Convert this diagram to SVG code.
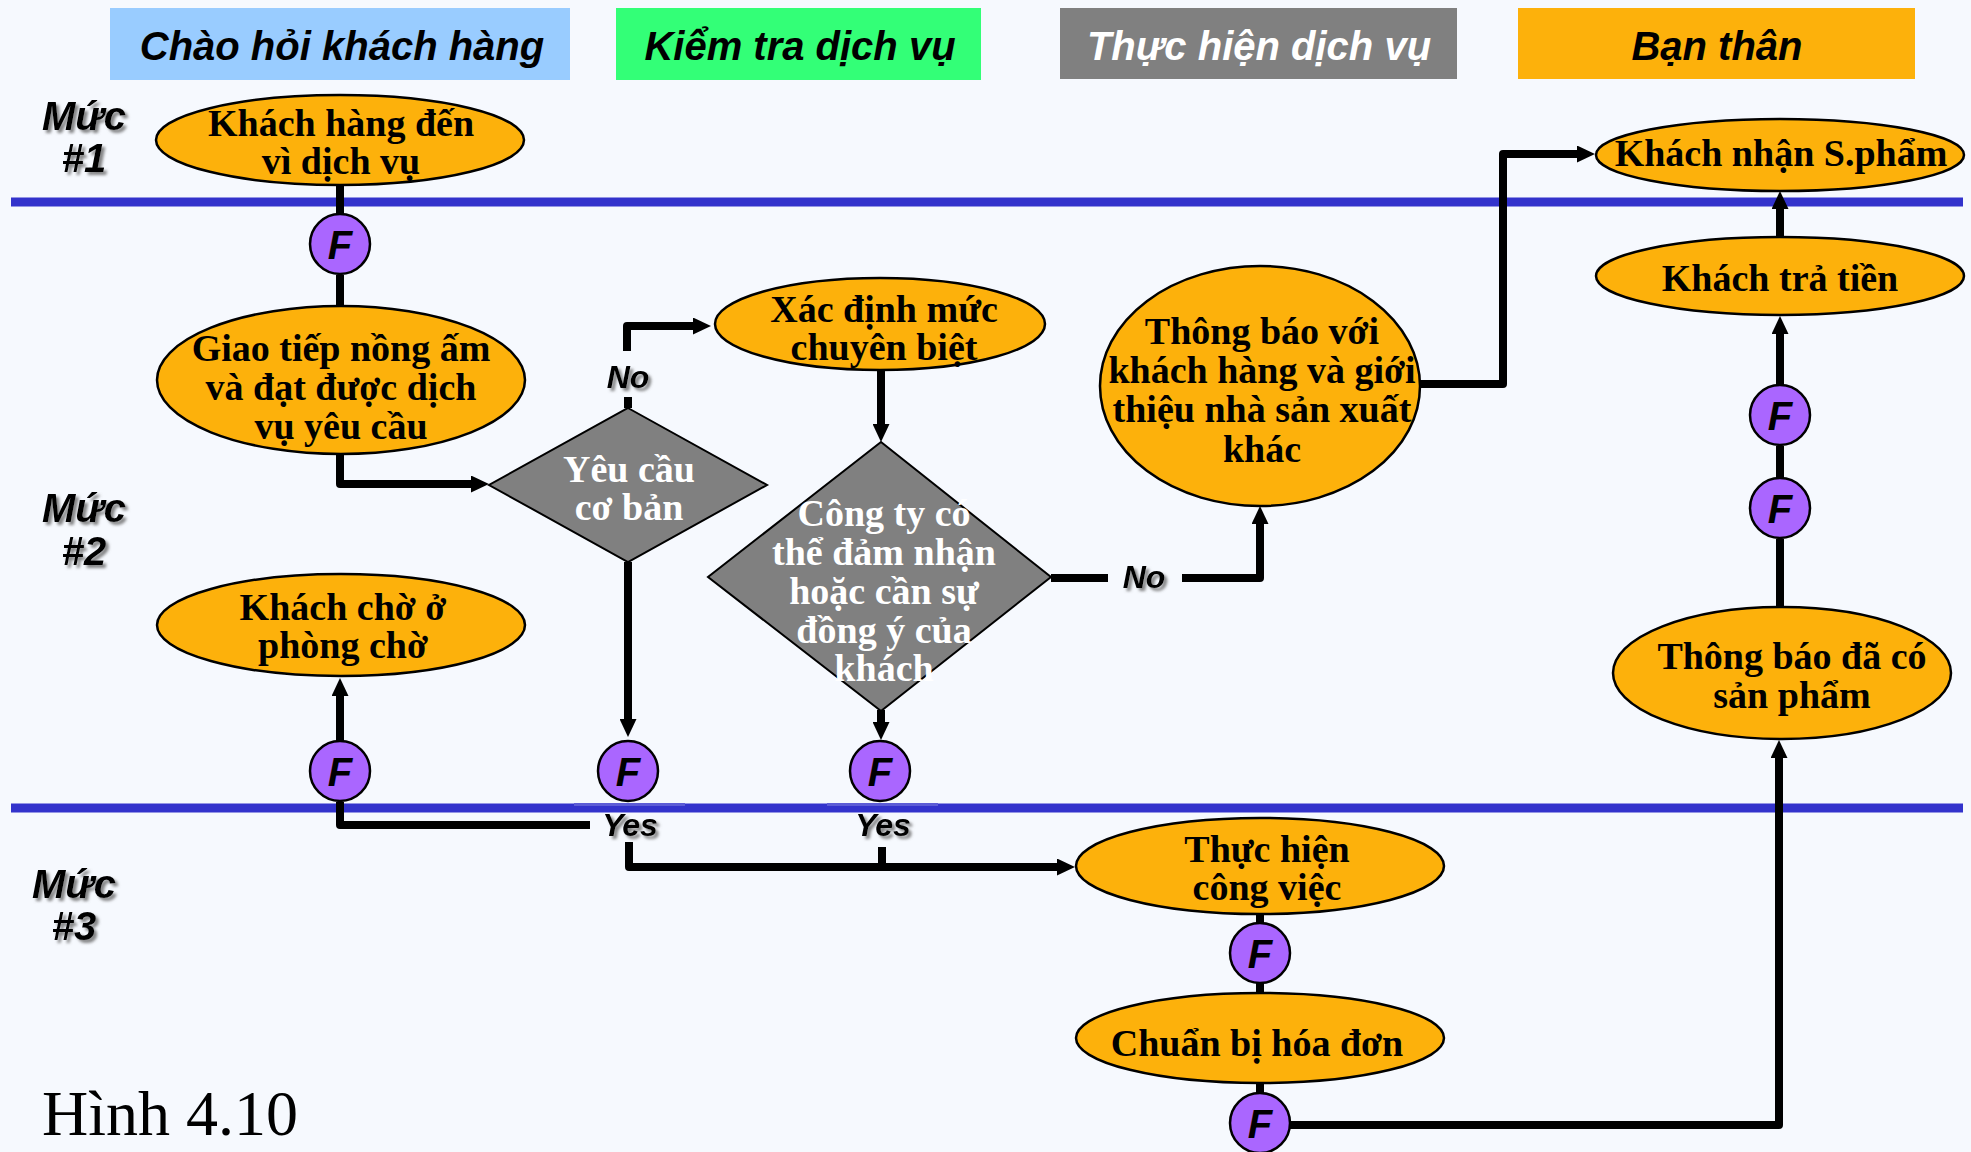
<svg xmlns="http://www.w3.org/2000/svg" width="1971" height="1152" viewBox="0 0 1971 1152">
  <defs>
    <style>
      .lane-head { font-family: "Liberation Sans", Arial, sans-serif; font-weight: bold; font-style: italic; font-size: 40px; text-anchor: middle; }
      .level { font-family: "Liberation Sans", Arial, sans-serif; font-weight: bold; font-style: italic; font-size: 40px; text-anchor: middle; fill: #000; }
      .tag { font-family: "Liberation Sans", Arial, sans-serif; font-weight: bold; font-style: italic; font-size: 32px; text-anchor: middle; fill: #000; }
      .step { fill: #FDB10B; stroke: #000; stroke-width: 2.5; }
      .step-text { font-family: "Liberation Serif", "Times New Roman", serif; font-weight: bold; font-size: 38px; text-anchor: middle; fill: #000; }
      .decision { fill: #808080; stroke: #000; stroke-width: 2; }
      .decision-text { font-family: "Liberation Serif", "Times New Roman", serif; font-weight: bold; font-size: 38px; text-anchor: middle; fill: #fff; }
      .fail { fill: #AA66FF; stroke: #000; stroke-width: 2.5; }
      .fail-text { font-family: "Liberation Sans", Arial, sans-serif; font-weight: bold; font-style: italic; font-size: 40px; text-anchor: middle; fill: #000; }
      .lane-line { stroke: #3333CC; stroke-width: 9; }
      .flow { fill: none; stroke: #000; stroke-width: 8; stroke-linejoin: round; stroke-linecap: butt; }
      .caption { font-family: "Liberation Serif", "Times New Roman", serif; font-size: 64px; fill: #000; }
    </style>
    <marker id="ah" markerUnits="userSpaceOnUse" viewBox="0 0 18 17" markerWidth="18" markerHeight="17" refX="6" refY="8.5" orient="auto">
      <path d="M0,0 L18,8.5 L0,17 z" fill="#000"/>
    </marker>
    <filter id="shadow" x="-20%" y="-20%" width="150%" height="160%">
      <feDropShadow dx="3" dy="3" stdDeviation="1.5" flood-color="#666" flood-opacity="0.8"/>
    </filter>
  </defs>

  <!-- page background -->
  <rect x="0" y="0" width="1971" height="1152" fill="#F6F9FE"/>

  <!-- swimlane headers -->
  <g id="lane-greeting">
    <rect x="110" y="8" width="460" height="72" fill="#99CCFF"/>
    <text class="lane-head" x="342" y="60" fill="#000">Chào hỏi khách hàng</text>
  </g>
  <g id="lane-check">
    <rect x="616" y="8" width="365" height="72" fill="#33FF77"/>
    <text class="lane-head" x="800" y="60" fill="#000">Kiểm tra dịch vụ</text>
  </g>
  <g id="lane-perform">
    <rect x="1060" y="8" width="397" height="71" fill="#808080"/>
    <text class="lane-head" x="1259" y="60" fill="#fff">Thực hiện dịch vụ</text>
  </g>
  <g id="lane-friend">
    <rect x="1518" y="8" width="397" height="71" fill="#FDB10B"/>
    <text class="lane-head" x="1717" y="60" fill="#000">Bạn thân</text>
  </g>

  <!-- level labels -->
  <g id="level-1" filter="url(#shadow)">
    <text class="level" x="84" y="130">Mức</text>
    <text class="level" x="84" y="172">#1</text>
  </g>
  <g id="level-2" filter="url(#shadow)">
    <text class="level" x="84" y="522">Mức</text>
    <text class="level" x="84" y="565">#2</text>
  </g>
  <g id="level-3" filter="url(#shadow)">
    <text class="level" x="74" y="898">Mức</text>
    <text class="level" x="74" y="940">#3</text>
  </g>

  <!-- level separators -->
  <g id="level-lines">
    <line class="lane-line" x1="11" y1="202" x2="1963" y2="202"/>
    <line class="lane-line" x1="11" y1="808" x2="1963" y2="808"/>
    <rect x="574" y="803" width="111" height="3" fill="#5C5CD6"/>
    <rect x="827" y="803" width="111" height="3" fill="#5C5CD6"/>
  </g>

  <!-- connectors -->
  <g id="connectors">
    <path class="flow" d="M340,184 V214"/>
    <path class="flow" d="M340,275 V306"/>
    <path class="flow" d="M340,454 V484 H477" marker-end="url(#ah)"/>
    <path class="flow" d="M628,408 V397"/>
    <path class="flow" d="M627,351 V326 H699" marker-end="url(#ah)"/>
    <path class="flow" d="M881,370 V430" marker-end="url(#ah)"/>
    <path class="flow" d="M628,562 V725" marker-end="url(#ah)"/>
    <path class="flow" d="M881,710 V728" marker-end="url(#ah)"/>
    <path class="flow" d="M340,740 V690" marker-end="url(#ah)"/>
    <path class="flow" d="M340,802 V825 H590"/>
    <path class="flow" d="M629,842 V867 H1063" marker-end="url(#ah)"/>
    <path class="flow" d="M882,847 V867"/>
    <path class="flow" d="M1051,578 H1108"/>
    <path class="flow" d="M1182,578 H1260 V518" marker-end="url(#ah)"/>
    <path class="flow" d="M1419,384 H1503 V154 H1583" marker-end="url(#ah)"/>
    <path class="flow" d="M1260,914 V923"/>
    <path class="flow" d="M1260,983 V994"/>
    <path class="flow" d="M1260,1083 V1093"/>
    <path class="flow" d="M1290,1125 H1779 V752" marker-end="url(#ah)"/>
    <path class="flow" d="M1780,607 V539"/>
    <path class="flow" d="M1780,477 V446"/>
    <path class="flow" d="M1780,384 V328" marker-end="url(#ah)"/>
    <path class="flow" d="M1780,237 V203" marker-end="url(#ah)"/>
  </g>

  <!-- branch labels -->
  <g id="label-no-basic" filter="url(#shadow)"><text class="tag" x="628" y="388">No</text></g>
  <g id="label-no-accept" filter="url(#shadow)"><text class="tag" x="1144" y="588">No</text></g>
  <g id="label-yes-basic" filter="url(#shadow)"><text class="tag" x="630" y="836">Yes</text></g>
  <g id="label-yes-accept" filter="url(#shadow)"><text class="tag" x="883" y="836">Yes</text></g>

  <!-- process steps -->
  <g id="customer-arrives">
    <ellipse class="step" cx="340" cy="140" rx="184" ry="45"/>
    <text class="step-text" x="341" y="136">Khách hàng đến</text>
    <text class="step-text" x="341" y="174">vì dịch vụ</text>
  </g>
  <g id="warm-greeting">
    <ellipse class="step" cx="341" cy="380" rx="184" ry="74"/>
    <text class="step-text" x="341" y="361">Giao tiếp nồng ấm</text>
    <text class="step-text" x="341" y="400">và đạt được dịch</text>
    <text class="step-text" x="341" y="439">vụ yêu cầu</text>
  </g>
  <g id="waiting-room">
    <ellipse class="step" cx="341" cy="625" rx="184" ry="51"/>
    <text class="step-text" x="343" y="620">Khách chờ ở</text>
    <text class="step-text" x="343" y="658">phòng chờ</text>
  </g>
  <g id="basic-request">
    <polygon class="decision" points="628,408 767,485 628,562 489,485"/>
    <text class="decision-text" x="629" y="482">Yêu cầu</text>
    <text class="decision-text" x="629" y="520">cơ bản</text>
  </g>
  <g id="specialist-level">
    <ellipse class="step" cx="880" cy="324" rx="165" ry="46"/>
    <text class="step-text" x="884" y="322">Xác định mức</text>
    <text class="step-text" x="884" y="360">chuyên biệt</text>
  </g>
  <g id="can-accept">
    <polygon class="decision" points="881,442 1051,577 881,711 708,577"/>
    <text class="decision-text" x="884" y="526">Công ty có</text>
    <text class="decision-text" x="884" y="565">thể đảm nhận</text>
    <text class="decision-text" x="884" y="604">hoặc cần sự</text>
    <text class="decision-text" x="884" y="643">đồng ý của</text>
    <text class="decision-text" x="884" y="681">khách</text>
  </g>
  <g id="refer-elsewhere">
    <ellipse class="step" cx="1260" cy="386" rx="160" ry="120"/>
    <text class="step-text" x="1262" y="344">Thông báo với</text>
    <text class="step-text" x="1262" y="383">khách hàng và giới</text>
    <text class="step-text" x="1262" y="422">thiệu nhà sản xuất</text>
    <text class="step-text" x="1262" y="462">khác</text>
  </g>
  <g id="do-work">
    <ellipse class="step" cx="1260" cy="866" rx="184" ry="48"/>
    <text class="step-text" x="1267" y="862">Thực hiện</text>
    <text class="step-text" x="1267" y="900">công việc</text>
  </g>
  <g id="prepare-invoice">
    <ellipse class="step" cx="1260" cy="1038" rx="184" ry="45"/>
    <text class="step-text" x="1257" y="1056">Chuẩn bị hóa đơn</text>
  </g>
  <g id="product-ready">
    <ellipse class="step" cx="1782" cy="673" rx="169" ry="66"/>
    <text class="step-text" x="1792" y="669">Thông báo đã có</text>
    <text class="step-text" x="1792" y="708">sản phẩm</text>
  </g>
  <g id="customer-pays">
    <ellipse class="step" cx="1780" cy="276" rx="184" ry="39"/>
    <text class="step-text" x="1780" y="291">Khách trả tiền</text>
  </g>
  <g id="customer-receives">
    <ellipse class="step" cx="1780" cy="155" rx="184" ry="36"/>
    <text class="step-text" x="1781" y="166">Khách nhận S.phẩm</text>
  </g>

  <!-- fail points -->
  <g id="fail-1"><circle class="fail" cx="340" cy="244" r="30"/><text class="fail-text" x="340" y="259">F</text></g>
  <g id="fail-2"><circle class="fail" cx="340" cy="771" r="30"/><text class="fail-text" x="340" y="786">F</text></g>
  <g id="fail-3"><circle class="fail" cx="628" cy="771" r="30"/><text class="fail-text" x="628" y="786">F</text></g>
  <g id="fail-4"><circle class="fail" cx="880" cy="771" r="30"/><text class="fail-text" x="880" y="786">F</text></g>
  <g id="fail-5"><circle class="fail" cx="1260" cy="953" r="30"/><text class="fail-text" x="1260" y="968">F</text></g>
  <g id="fail-6"><circle class="fail" cx="1260" cy="1123" r="30"/><text class="fail-text" x="1260" y="1138">F</text></g>
  <g id="fail-7"><circle class="fail" cx="1780" cy="415" r="30"/><text class="fail-text" x="1780" y="430">F</text></g>
  <g id="fail-8"><circle class="fail" cx="1780" cy="508" r="30"/><text class="fail-text" x="1780" y="523">F</text></g>

  <!-- figure caption -->
  <text class="caption" x="42" y="1135">Hình 4.10</text>
</svg>
